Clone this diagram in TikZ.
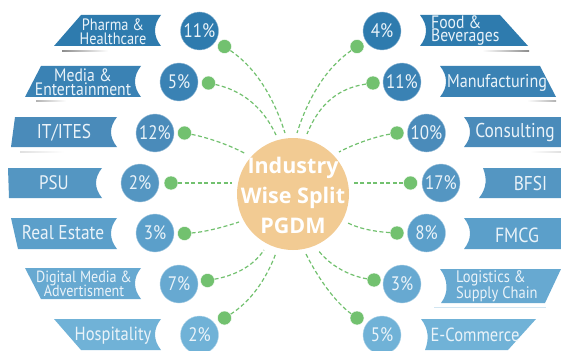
\documentclass[tikz,border=0pt]{standalone}
\usepackage{fontspec}
\setmainfont[FakeStretch=0.87]{PT Sans}
\newfontfamily\hubfont{Open Sans}
\definecolor{gr}{HTML}{72C16F}
\definecolor{hub}{HTML}{F2CB93}
\definecolor{txt}{HTML}{EAF3F9}
\definecolor{cA}{HTML}{2E7BAE}
\definecolor{cB}{HTML}{3A82B4}
\definecolor{cC}{HTML}{4A8BBA}
\definecolor{cD}{HTML}{5496C2}
\definecolor{cE}{HTML}{5B9FCA}
\definecolor{cF}{HTML}{67A9D1}
\definecolor{cG}{HTML}{70B2D7}
\tikzset{
  pct/.style={circle,fill=#1,draw=#1!55!white,line width=0.4pt,minimum size=38pt,inner sep=0pt,text=txt,font=\fontsize{19.5}{19.5}\selectfont},
  dot/.style={circle,fill=gr,draw=white,line width=0.4pt,minimum size=14pt,inner sep=0pt},
  link/.style={draw=gr,line width=1.2pt,dash pattern=on 4pt off 2.5pt},
  lab/.style={text=txt,inner sep=0pt,align=center,font=\fontsize{#1}{#1}\selectfont},
  lab/.default=17
}
\begin{document}
\begin{tikzpicture}[x=1pt,y=-1pt]
\clip (0,0) rectangle (561,350);
\fill[white] (0,0) rectangle (561,350);
% soft shadows under the top banners
\fill[left color=black!45,right color=white] (62,50.2) rectangle (108,51.6);
\fill[left color=black!30,right color=white] (36,100.4) rectangle (66,101.4);
\fill[left color=black!12,right color=white] (20,151) rectangle (64,152);
\fill[left color=white,right color=black!45] (482,50.2) rectangle (529,51.6);
\fill[left color=white,right color=black!30] (527,100.4) rectangle (556,101.4);
\fill[left color=white,right color=black!12] (530,151) rectangle (561,152);
\fill[cF!30!white] (434,306.5) rectangle (546,307.5);
% left banners
\fill[cA] (81,15) -- (161,15) .. controls (153,25) and (153,36) .. (161,46) -- (54,46) -- cycle;
\fill[cB] (41,66) -- (141,66) .. controls (133,76) and (133,87) .. (141,97) -- (25,97) -- cycle;
\fill[cC] (15,117) -- (117,117) .. controls (109,127) and (109,137) .. (117,147) -- (11,147) -- cycle;
\fill[cD] (8,168) -- (102,168) .. controls (94,178) and (94,188) .. (102,198) -- (9,198) -- cycle;
\fill[cE] (11,218) -- (117,218) .. controls (109,228) and (109,239) .. (117,249) -- (18,249) -- cycle;
\fill[cF] (25,268) -- (141,268) .. controls (133,278) and (133,289) .. (141,299) -- (41,299) -- cycle;
\fill[cG] (54,319) -- (161,319) .. controls (153,329) and (153,340) .. (161,350) -- (81,350) -- cycle;
% right banners
\fill[cA] (420,15) -- (500,15) -- (528,46) -- (420,46) .. controls (428,36) and (428,25) .. (420,15) -- cycle;
\fill[cB] (440,66) -- (540,66) -- (556,97) -- (440,97) .. controls (448,87) and (448,76) .. (440,66) -- cycle;
\fill[cC] (464,117) -- (561,117) -- (561,147) -- (464,147) .. controls (472,137) and (472,127) .. (464,117) -- cycle;
\fill[cD] (483,168) -- (561,168) -- (561,198) -- (479,198) .. controls (487,188) and (487,178) .. (483,168) -- cycle;
\fill[cE] (464,218) -- (561,218) -- (561,249) -- (464,249) .. controls (472,239) and (472,228) .. (464,218) -- cycle;
\fill[cF] (440,269) -- (561,269) -- (545,303) -- (441,303) .. controls (449,293) and (448,279) .. (440,269) -- cycle;
\fill[cG] (421,319) -- (536,319) -- (508,350) -- (425,350) .. controls (429,340) and (429,329) .. (421,319) -- cycle;
% labels
\node[lab=16.5] (l1) at (113,32) {Pharma \&\\[-2.5pt]Healthcare};
\node[lab=18] (l2) at (83,82) {Media \&\\[-4pt]Entertainment};
\node[lab=20] (l3) at (64,133) {IT/ITES};
\node[lab=19.5] (l4) at (54,183) {PSU};
\node[lab=20] (l5) at (63,233) {Real Estate};
\node[lab=16.2] (l6) at (84,284) {Digital Media \&\\[-2pt]Advertisment};
\node[lab=19] (l7) at (113,336) {Hospitality};
\node[lab=18,align=left,anchor=west] (r1) at (431,31) {Food \&\\[-5pt]Beverages};
\node[lab=18.5] (r2) at (497,82.5) {Manufacturing};
\node[lab=20] (r3) at (515,132) {Consulting};
\node[lab=20] (r4) at (530.5,183) {BFSI};
\node[lab=20.5] (r5) at (517,235) {FMCG};
\node[lab=16.7,align=left,anchor=west] (r6) at (456,286) {Logistics \&\\[-0.5pt]Supply Chain};
\node[lab=19] (r7) at (475,335) {E-Commerce};
% hub
\node[circle,fill=hub,minimum size=112pt,inner sep=0pt] (hub) at (293,194) {};
\node[inner sep=0pt,text=white,align=center,font=\hubfont\bfseries\fontsize{21.5}{30}\selectfont] (hubtext) at (293,195) {Industry\\Wise Split\\PGDM};
% percent circles
\node[pct=cA] (pa) at (199.5,31) {11\%};
\node[pct=cB] (pb) at (179,82) {5\%};
\node[pct=cC] (pc) at (155,133) {12\%};
\node[pct=cD] (pd) at (140,183) {2\%};
\node[pct=cE] (pe) at (155,233) {3\%};
\node[pct=cF] (pf) at (179,284) {7\%};
\node[pct=cG] (pg) at (199.5,335) {2\%};
\node[pct=cA] (qa) at (382,31) {4\%};
\node[pct=cB] (qb) at (402,82) {11\%};
\node[pct=cC] (qc) at (426.5,133) {10\%};
\node[pct=cD] (qd) at (441,183) {17\%};
\node[pct=cE] (qe) at (426.5,233) {8\%};
\node[pct=cF] (qf) at (402,284) {3\%};
\node[pct=cG] (qg) at (382,335) {5\%};
% green dots
\node[dot] (da) at (224.5,46.5) {};
\node[dot] (db) at (208.5,83) {};
\node[dot] (dc) at (184.5,133) {};
\node[dot] (dd) at (171,183) {};
\node[dot] (de) at (184.5,233.5) {};
\node[dot] (df) at (207.5,280.5) {};
\node[dot] (dg) at (224.5,318) {};
\node[dot] (ea) at (357,46.5) {};
\node[dot] (eb) at (373,83) {};
\node[dot] (ec) at (397,133) {};
\node[dot] (ed) at (410.5,183) {};
\node[dot] (ee) at (397,233) {};
\node[dot] (ef) at (374,280) {};
\node[dot] (eg) at (357,318) {};
% free ends near the hub
\coordinate (ha) at (285,133);
\coordinate (hb) at (276,135);
\coordinate (hc) at (246,154);
\coordinate (hd) at (232,183);
\coordinate (he) at (239,222);
\coordinate (hf) at (264,250);
\coordinate (hg) at (276,253);
\coordinate (ia) at (297,133);
\coordinate (ib) at (307,134);
\coordinate (ic) at (339,152);
\coordinate (id) at (353,183);
\coordinate (ie) at (348,223);
\coordinate (if) at (318,250);
\coordinate (ig) at (306,254);
% connectors
\draw[link] (da) .. controls (256,68) and (274,98) .. (ha);
\draw[link] (db) .. controls (240,90) and (262,105) .. (hb);
\draw[link] (dc) .. controls (205,137) and (228,144) .. (hc);
\draw[link] (dd) -- (hd);
\draw[link] (de) .. controls (205,232) and (224,227) .. (he);
\draw[link] (df) .. controls (232,276) and (252,268) .. (hf);
\draw[link] (dg) .. controls (250,302) and (266,280) .. (hg);
\draw[link] (ea) .. controls (326,68) and (308,98) .. (ia);
\draw[link] (eb) .. controls (340,88) and (320,102) .. (ib);
\draw[link] (ec) .. controls (378,136) and (356,143) .. (ic);
\draw[link] (ed) -- (id);
\draw[link] (ee) .. controls (380,232) and (362,230) .. (ie);
\draw[link] (ef) .. controls (350,276) and (330,266) .. (if);
\draw[link] (eg) .. controls (335,302) and (318,278) .. (ig);
\end{tikzpicture}
\end{document}
